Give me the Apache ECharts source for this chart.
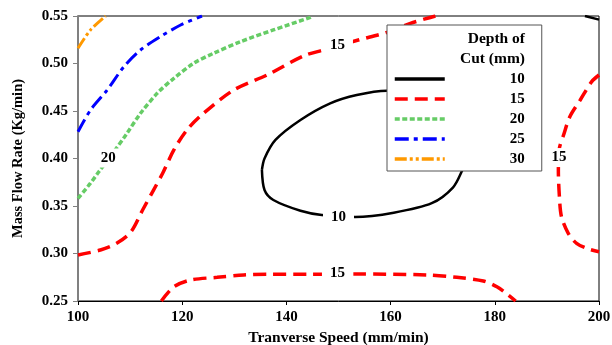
<!DOCTYPE html>
<html lang="en">
<head>
    <meta charset="utf-8">
    <title>Depth of Cut contours</title>
    <script src="https://cdn.jsdelivr.net/npm/echarts@6/dist/echarts.min.js"></script>
    <style>
        html, body { margin: 0; padding: 0; background: #fff; }
    </style>
</head>
<body>
<div id="chart" style="width: 612px; height: 345px;"></div>
<script>
    // contour lines, [speed, flow rate]
    var depth10Ring = [[135.3, 0.388], [135.8, 0.400], [137.9, 0.4195], [142.7, 0.4405], [148.4, 0.458],
        [153.5, 0.4668], [159.3, 0.4713], [165, 0.469], [170, 0.46], [173.5, 0.445], [175.5, 0.425],
        [175.5, 0.405], [173.9, 0.389], [172.0, 0.3697], [167.9, 0.353], [160.6, 0.343], [153.2, 0.3384],
        [146.8, 0.3405], [142.7, 0.345], [137.5, 0.3563], [135.8, 0.3668], [135.3, 0.388]];
    var depth10Corner = [[197.3, 0.55], [200, 0.5462]];
    var depth15Upper = [[100, 0.2984], [104.3, 0.3037], [107.5, 0.311], [110.2, 0.323], [112.4, 0.3458],
        [114.5, 0.3668], [116.3, 0.385], [118.4, 0.409], [120.9, 0.43], [124.1, 0.4476], [129.9, 0.4721],
        [136.3, 0.4879], [143.3, 0.508], [147.1, 0.5142], [153.8, 0.5247], [159.3, 0.5328], [163.8, 0.5423],
        [168.6, 0.55]];
    var depth15Right = [[200, 0.4879], [198.6, 0.4809], [196.4, 0.4616], [194.4, 0.444], [193.2, 0.4247],
        [192.4, 0.4107], [192.2, 0.3879], [192.4, 0.3598], [192.8, 0.3387], [194.1, 0.3213], [195.7, 0.3107],
        [198.0, 0.3047], [200, 0.3019]];
    var depth15Lower = [[116.0, 0.25], [118.4, 0.265], [121.6, 0.2721], [126.7, 0.2749], [131.8, 0.2774],
        [136.3, 0.2781], [144.6, 0.2781], [153.5, 0.2784], [167.0, 0.2774], [172.7, 0.2749], [177.8, 0.2711],
        [180.4, 0.265], [182.6, 0.2563], [184.0, 0.25]];
    var depth20 = [[100, 0.358], [102.4, 0.374], [104.0, 0.386], [106.2, 0.4019], [109.4, 0.4265],
        [112.0, 0.4476], [115.2, 0.4686], [118.4, 0.4844], [122.2, 0.5002], [126.0, 0.5107], [131.2, 0.523],
        [137.5, 0.5353], [144.6, 0.5486], [145, 0.55]];
    var depth25 = [[100, 0.4282], [102.4, 0.451], [105.6, 0.4721], [108.8, 0.4966], [112.0, 0.5142],
        [115.8, 0.5282], [119.7, 0.5405], [123.8, 0.55]];
    var depth30 = [[100, 0.516], [102.4, 0.5353], [105.3, 0.55]];

    // contour labels
    var labelX = [149.8, 150.0, 192.3, 149.8, 105.8];
    var labelY = [0.5195, 0.3384, 0.401, 0.2792, 0.4005];
    var labelText = ['15', '10', '15', '15', '20'];

    var depthNames = ['10', '15', '20', '25', '30'];

    var serif = 'Liberation Serif';

    function contour(name, data, color, width, dash) {
        return {
            name: name,
            type: 'line',
            data: data,
            smooth: 0.3,
            symbol: 'none',
            silent: true,
            lineStyle: {color: color, width: width, type: dash},
            itemStyle: {color: color}
        };
    }

    var chart = echarts.init(document.getElementById('chart'));
    var option = {
        animation: false,
        grid: {
            left: 78, top: 16, right: 13, bottom: 44,
            outerBoundsMode: 'none',
            containLabel: false,
            show: true, borderColor: '#000', borderWidth: 1
        },
        xAxis: {
            type: 'value',
            min: 100, max: 200, interval: 20,
            name: 'Tranverse Speed (mm/min)',
            nameLocation: 'middle',
            nameGap: 25,
            nameTextStyle: {fontFamily: serif, fontWeight: 'bold', fontSize: 15.5, color: '#000'},
            axisLine: {lineStyle: {color: '#000', width: 1}},
            axisTick: {show: true, inside: false, length: 4, lineStyle: {color: '#000'}},
            axisLabel: {fontFamily: serif, fontWeight: 'bold', fontSize: 15, color: '#000', margin: 9},
            splitLine: {show: false}
        },
        yAxis: {
            type: 'value',
            min: 0.25, max: 0.55, interval: 0.05,
            name: 'Mass Flow Rate (Kg/min)',
            nameLocation: 'middle',
            nameGap: 52,
            nameTextStyle: {fontFamily: serif, fontWeight: 'bold', fontSize: 14.5, color: '#000'},
            axisLine: {show: true, lineStyle: {color: '#808080', width: 2}},
            axisTick: {show: true, inside: false, length: 5, lineStyle: {color: '#808080'}},
            axisLabel: {
                fontFamily: serif, fontWeight: 'bold', fontSize: 15, color: '#000', margin: 10,
                formatter: function (v) { return v.toFixed(2); }
            },
            splitLine: {show: false}
        },
        legend: {
            data: depthNames,
            orient: 'vertical',
            left: 387, top: 25,
            padding: [46, 17, 4, 6],
            itemWidth: 50, itemHeight: 12, itemGap: 4,
            backgroundColor: '#fff',
            borderColor: '#555', borderWidth: 1,
            z: 10,
            selectedMode: false,
            itemStyle: {opacity: 0},
            lineStyle: {width: 3.5},
            formatter: function (name) { return '{a|' + name + '}'; },
            textStyle: {
                fontFamily: serif, fontWeight: 'bold', fontSize: 15, color: '#000', lineHeight: 16,
                rich: {a: {width: 75, height: 16, lineHeight: 16, align: 'right',
                    fontFamily: serif, fontWeight: 'bold', fontSize: 15}}
            }
        },
        graphic: [{
            type: 'text',
            x: 525, y: 29, z: 20,
            style: {
                text: 'Depth of\nCut (mm)',
                font: 'bold 15.5px "Liberation Serif"',
                textAlign: 'right', lineHeight: 20,
                fill: '#000'
            }
        }],
        series: [
            contour('10', depth10Ring, '#000', 2.5, 'solid'),
            contour('10', depth10Corner, '#000', 2.5, 'solid'),
            contour('15', depth15Upper, '#ff0000', 3.5, [13, 7]),
            contour('15', depth15Right, '#ff0000', 3.5, [13, 7]),
            contour('15', depth15Lower, '#ff0000', 3.5, [13, 7]),
            contour('20', depth20, '#66cc66', 3.5, [5, 2.5]),
            contour('25', depth25, '#0000ff', 3, [14, 5, 4, 5]),
            contour('30', depth30, '#ff9900', 3, [12, 3, 3, 3, 3, 3]),
            {
                name: 'labels',
                type: 'scatter',
                symbolSize: 0,
                silent: true,
                z: 5,
                itemStyle: {opacity: 1, color: '#000'},
                data: labelX.map(function (x, i) { return [x, labelY[i], labelText[i]]; }),
                label: {
                    show: true,
                    position: 'inside',
                    formatter: function (p) { return p.value[2]; },
                    fontFamily: serif, fontWeight: 'bold', fontSize: 15, color: '#000',
                    opacity: 1,
                    textBorderWidth: 0,
                    backgroundColor: '#fff',
                    padding: [2, 8]
                }
            }
        ]
    };
    chart.setOption(option);
</script>
</body>
</html>
